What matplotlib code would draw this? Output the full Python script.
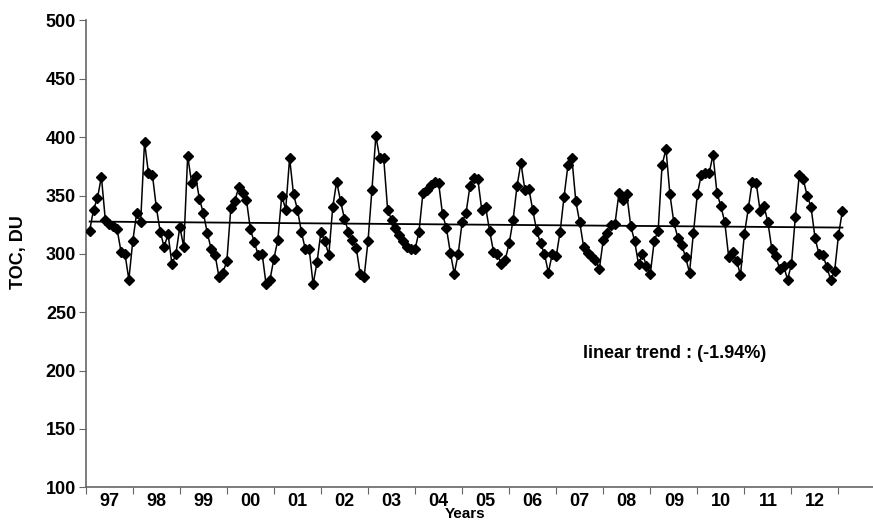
import numpy as np
import matplotlib
matplotlib.use('Agg')
import matplotlib.pyplot as plt

plt.rcParams['font.family'] = ['Liberation Sans', 'DejaVu Sans']
plt.rcParams['font.weight'] = 'bold'

# monthly total ozone column (DU), Jan 1997 .. Jan 2013
toc = [320, 338, 348, 366, 329, 326, 324, 321, 302, 300, 278, 311,
       335, 327, 396, 369, 368, 340, 319, 306, 317, 291, 300, 323,
       306, 384, 361, 367, 347, 335, 318, 304, 299, 280, 284, 294,
       339, 345, 357, 352, 346, 321, 310, 299, 300, 274, 278, 296,
       312, 350, 338, 382, 351, 338, 319, 304, 304, 274, 293, 319,
       311, 299, 340, 362, 345, 330, 319, 312, 305, 283, 280, 311,
       355, 401, 382, 382, 338, 329, 322, 316, 311, 306, 304, 304,
       319, 352, 355, 359, 362, 361, 334, 322, 301, 283, 300, 327,
       335, 358, 365, 364, 338, 340, 320, 302, 300, 291, 295, 309,
       329, 358, 378, 355, 356, 338, 320, 309, 300, 284, 300, 298,
       319, 349, 376, 382, 345, 327, 306, 301, 298, 295, 287, 312,
       318, 325, 326, 352, 346, 351, 324, 311, 291, 300, 290, 283,
       311, 320, 376, 390, 351, 327, 314, 308, 297, 284, 318, 351,
       368, 369, 369, 385, 352, 341, 327, 297, 302, 294, 282, 317,
       339, 362, 361, 337, 341, 327, 304, 298, 287, 290, 278, 291,
       332, 368, 364, 350, 340, 314, 300, 299, 289, 278, 285, 316, 337]
year_labels = ['97', '98', '99', '00', '01', '02', '03', '04',
               '05', '06', '07', '08', '09', '10', '11', '12']
trend_text = 'linear trend : (-1.94%)'

x = np.arange(1, len(toc) + 1)
y = np.array(toc, dtype=float)

fig = plt.figure(figsize=(8.73, 5.24), dpi=100)
ax = fig.add_axes([0.0982, 0.070, 0.9018, 0.891])

ax.plot(x, y, color='black', lw=1.1, marker='D', ms=5, zorder=3)

# linear trend
k, b = np.polyfit(x, y, 1)
ax.plot([x[0], x[-1]], [k * x[0] + b, k * x[-1] + b], color='black', lw=1.3, zorder=2)

ax.set_xlim(0, 200.8)
ax.set_ylim(100, 500)
ax.set_yticks(np.arange(100, 501, 50))

ax.set_xticks(np.arange(0, 12 * len(year_labels) + 1, 12))
ax.set_xticklabels([])
ax.set_xticks(np.arange(6, 12 * len(year_labels), 12), minor=True)
ax.set_xticklabels(year_labels, minor=True)
ax.tick_params(axis='x', which='minor', length=0, labelsize=13, pad=4)
ax.tick_params(axis='x', which='major', length=5, color='#666666', direction='out')
ax.tick_params(axis='y', length=5, color='#666666', labelsize=13, pad=2)

for s in ['top', 'right']:
    ax.spines[s].set_visible(False)
for s in ['left', 'bottom']:
    ax.spines[s].set_color('#666666')
    ax.spines[s].set_linewidth(1.2)

fig.text(18 / 873, 1 - 252 / 524, 'TOC, DU', ha='center', va='center',
         rotation=90, fontsize=13, fontweight='bold')
fig.text(465 / 873, 1 - 507 / 524, 'Years', ha='center', va='top',
         fontsize=11, fontweight='bold')
fig.text(583 / 873, 1 - 353 / 524, trend_text, ha='left', va='center',
         fontsize=13, fontweight='bold')

fig.savefig('out.png', dpi=100)
